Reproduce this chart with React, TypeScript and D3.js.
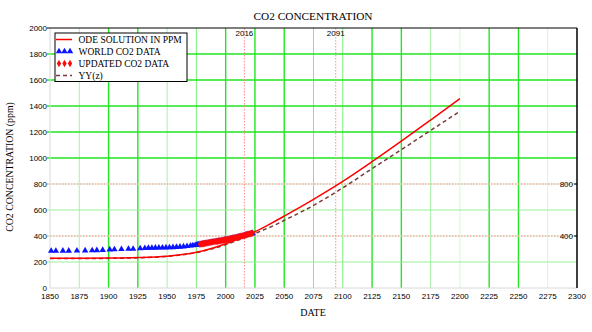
import React from "react";
import * as d3 from "d3";

// ---------- data ----------
const odeYears = [1850, 1875, 1900, 1925, 1950, 1960, 1975, 1990, 2000, 2010, 2020, 2030, 2040, 2050, 2075, 2100, 2125, 2150, 2175, 2200];
const odeValues = [228, 229, 230, 234, 245, 254, 275, 310, 340, 375, 412, 455, 503, 553, 682, 820, 972, 1130, 1292, 1456];
const yyValues = [226, 227, 228, 232, 243, 252, 272, 305, 334, 366, 400, 438, 476, 520, 635, 770, 918, 1064, 1212, 1359];

const worldYears = [
  1851, 1855, 1861, 1866, 1873, 1880, 1886, 1890, 1895,
  1901, 1905, 1911, 1917, 1921,
  1927, 1931, 1934, 1937, 1940, 1943, 1946, 1949, 1952, 1955, 1958, 1961, 1964, 1967, 1970, 1972,
  1974, 1975, 1976, 1977, 1978, 1979, 1980, 1981, 1982, 1983, 1984, 1985, 1986, 1987, 1988, 1989,
  1990, 1991, 1992, 1993, 1994, 1995, 1996, 1997, 1998, 1999, 2000, 2001, 2002, 2003, 2004, 2005,
  2006, 2007, 2008, 2009, 2010, 2011, 2012, 2013, 2014, 2015, 2016, 2017, 2018, 2019, 2020, 2021, 2022, 2023,
];
const worldValues = [
  285, 285, 286, 286, 287, 288, 289, 290, 292,
  296, 297, 299, 300, 301,
  305, 306, 307, 308, 309, 310, 310, 311, 312, 313, 315, 317, 319, 322, 325, 327,
  330, 331, 332, 334, 335, 337, 339, 340, 341, 343, 345, 346, 348, 349, 352, 353,
  354, 356, 357, 357, 359, 361, 363, 364, 367, 369, 370, 371, 373, 376, 378, 380,
  382, 384, 386, 388, 390, 392, 394, 397, 399, 401, 404, 407, 409, 412, 414, 416, 419, 421,
];

const updatedYears = [
  1978, 1979, 1980, 1981, 1982, 1983, 1984, 1985, 1986, 1987, 1988, 1989, 1990, 1991, 1992, 1993,
  1994, 1995, 1996, 1997, 1998, 1999, 2000, 2001, 2002, 2003, 2004, 2005, 2006, 2007, 2008, 2009,
  2010, 2011, 2012, 2013, 2014, 2015, 2016, 2017, 2018, 2019, 2020, 2021, 2022, 2023,
];
const updatedValues = [
  337, 338, 340, 341, 343, 344, 346, 348, 349, 351, 353, 355, 356, 357, 358, 359,
  361, 363, 364, 366, 368, 370, 371, 373, 375, 377, 379, 381, 383, 385, 387, 389,
  391, 393, 396, 398, 400, 402, 405, 408, 410, 413, 415, 417, 420, 422,
];

const xTicks = d3.range(1850, 2301, 25);
const yTicks = d3.range(0, 2001, 200);
const vMarkerPos = [2016, 2094];
const vMarkerLabels = ["2016", "2091"];
const hMarkerPos = [800, 400];
const hMarkerLabels = ["800", "400"];
const legendLabels = ["ODE SOLUTION IN PPM", "WORLD CO2 DATA", "UPDATED CO2 DATA", "YY(z)"];

const brightX = [1900, 1925, 2000, 2025, 2050, 2125, 2150, 2225, 2250];
const mediumX = [2075, 2100, 1975];
const paleX = [2200, 2275];
const brightY = [1000, 1200, 1400, 1600, 1800];

// ---------- layout ----------
const W = 592, H = 332;
const L = 50, R = 577, T = 28, B = 288;
const x = d3.scaleLinear().domain([1850, 2300]).range([L, R]);
const y = d3.scaleLinear().domain([0, 2000]).range([B, T]);

const serif = "'Liberation Serif', 'Times New Roman', serif";
const narrow = "'Liberation Sans Narrow', 'Liberation Sans', Arial, sans-serif";

export default function App() {
  const line = d3.line<number>().x((_, i) => x(odeYears[i])).y((d) => y(d)).curve(d3.curveMonotoneX);
  const tri = d3.symbol().type(d3.symbolTriangle).size(18)() as string;
  const dia = d3.symbol().type(d3.symbolDiamond).size(16)() as string;

  const vColor = (t: number) =>
    brightX.includes(t) ? "#22e622" : mediumX.includes(t) ? "#7cee7c" : paleX.includes(t) ? "#d4f8d4" : "#a6f2a6";
  const vWidth = (t: number) => (brightX.includes(t) ? 1.4 : 1);

  return (
    <svg width={W} height={H} style={{ position: "absolute", left: 0, top: 0, background: "#fff" }}>
      <rect x={0} y={0} width={W} height={H} fill="#fff" />
      {/* vertical grid */}
      {xTicks.filter((t) => t > 1850 && t < 2300).map((t) => (
        <line key={"vx" + t} x1={x(t)} x2={x(t)} y1={T} y2={B} stroke={vColor(t)} strokeWidth={vWidth(t)} />
      ))}
      {/* horizontal grid */}
      {yTicks.filter((v) => v > 0 && v < 2000).map((v) =>
        hMarkerPos.includes(v) ? (
          <line key={"hy" + v} x1={L - 3} x2={R} y1={y(v)} y2={y(v)} stroke="#cdf2cd" strokeWidth={1} />
        ) : (
          <line key={"hy" + v} x1={L - 3} x2={R} y1={y(v)} y2={y(v)}
            stroke={brightY.includes(v) ? "#22e622" : "#99ee99"} strokeWidth={brightY.includes(v) ? 1.4 : 1} />
        )
      )}
      {/* horizontal markers */}
      {hMarkerPos.map((v, i) => (
        <g key={"hm" + i}>
          <line x1={L - 3} x2={R} y1={y(v)} y2={y(v)} stroke="#ff8a8a" strokeWidth={1} strokeDasharray="1.5,1.5" />
          <line x1={R - 3} x2={R} y1={y(v)} y2={y(v)} stroke="#000" strokeWidth={1} />
          <text x={R - 4} y={y(v) + 3} textAnchor="end" fontFamily={narrow} fontSize={8} fill="#000">{hMarkerLabels[i]}</text>
        </g>
      ))}
      {/* vertical markers */}
      {vMarkerPos.map((t, i) => (
        <g key={"vm" + i}>
          <line x1={x(t)} x2={x(t)} y1={T} y2={B} stroke="#ff8a8a" strokeWidth={1} strokeDasharray="1.5,1.5" />
          <text x={x(t)} y={T + 8} textAnchor="middle" fontFamily={narrow} fontSize={8} fill="#000">{vMarkerLabels[i]}</text>
        </g>
      ))}
      {/* axes frame */}
      <line x1={L} x2={L} y1={T} y2={B} stroke="#d8d8d8" strokeWidth={1} />
      <line x1={L} x2={R} y1={B} y2={B} stroke="#d8d8d8" strokeWidth={1} />
      <line x1={L - 3} x2={R} y1={T} y2={T} stroke="#000" strokeWidth={1.2} />
      <line x1={R} x2={R} y1={T} y2={B} stroke="#000" strokeWidth={1.5} />
      {/* y tick labels */}
      {yTicks.map((v) => (
        <text key={"yl" + v} x={L - 3} y={y(v) + 3} textAnchor="end" fontFamily={narrow} fontSize={8} fill="#000">{v}</text>
      ))}
      {/* x tick labels */}
      {xTicks.map((t) => (
        <text key={"xl" + t} x={x(t)} y={298.5} textAnchor="middle" fontFamily={narrow} fontSize={8} fill="#000">{t}</text>
      ))}
      {/* data: world triangles */}
      {worldYears.map((t, i) => (
        <path key={"w" + i} d={tri} transform={`translate(${x(t)},${y(worldValues[i])})`} fill="#0a14ff" />
      ))}
      {/* yy dashed & ode line */}
      <path d={line(yyValues) as string} fill="none" stroke="#7a3a3a" strokeWidth={1.5} strokeDasharray="4,3" />
      <path d={line(odeValues) as string} fill="none" stroke="#ff0000" strokeWidth={1.5} />
      {/* updated diamonds */}
      {updatedYears.map((t, i) => (
        <path key={"u" + i} d={dia} transform={`translate(${x(t)},${y(updatedValues[i])})`} fill="#ff0a0a" />
      ))}
      {/* legend */}
      <g>
        <rect x={55} y={33} width={132} height={48.5} fill="#fff" stroke="#000" strokeWidth={1} />
        {legendLabels.map((lab, i) => {
          const ly = 39.5 + i * 12;
          return (
            <g key={"lg" + i}>
              {i === 0 && <line x1={56} x2={72} y1={ly} y2={ly} stroke="#ff0000" strokeWidth={1.5} />}
              {i === 1 && [59, 64.5, 70].map((lx) => (
                <path key={lx} d={tri} transform={`translate(${lx},${ly})`} fill="#0a14ff" />
              ))}
              {i === 2 && [59, 64.5, 70].map((lx) => (
                <path key={lx} d={dia} transform={`translate(${lx},${ly})`} fill="#ff0a0a" />
              ))}
              {i === 3 && <line x1={56} x2={72} y1={ly} y2={ly} stroke="#7a3a3a" strokeWidth={1.5} strokeDasharray="4,3" />}
              <text x={78.5} y={ly + 3.3} fontFamily={serif} fontSize={9.5} fill="#000">{lab}</text>
            </g>
          );
        })}
      </g>
      {/* titles */}
      <text x={313} y={20} textAnchor="middle" fontFamily={serif} fontSize={11.3} fill="#000">CO2 CONCENTRATION</text>
      <text x={313} y={316} textAnchor="middle" fontFamily={serif} fontSize={10} fill="#000">DATE</text>
      <text transform="translate(13,167) rotate(-90)" textAnchor="middle" fontFamily={serif} fontSize={9.8} fill="#000">CO2 CONCENTRATION (ppm)</text>
    </svg>
  );
}
